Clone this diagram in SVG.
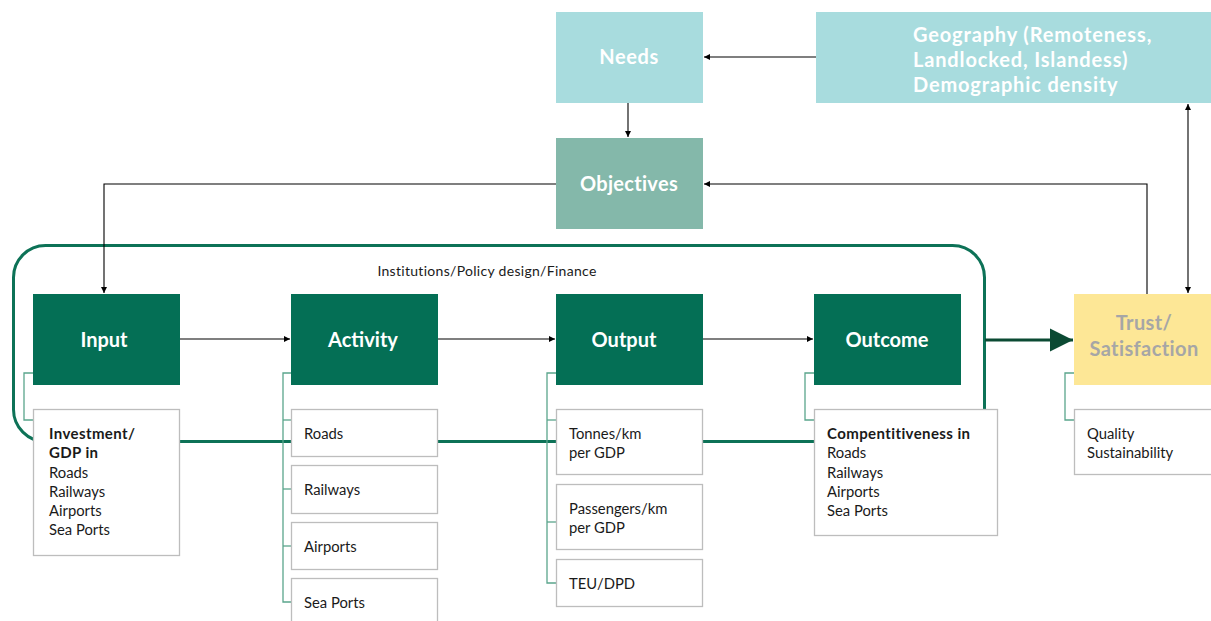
<svg xmlns="http://www.w3.org/2000/svg" width="1211" height="621" viewBox="0 0 1211 621">
<style>
.main{fill:#046f55}
.head{font-family:Lato,"Open Sans",sans-serif;font-weight:bold;fill:#ffffff;text-anchor:middle}
.lt{font-size:20px;letter-spacing:0.6px}
.geo{font-size:20px;letter-spacing:0.85px;text-anchor:start}
.sub{fill:#ffffff;stroke:#bdbdbd;stroke-width:1.3}
.t{font-family:Lato,"Open Sans",sans-serif;font-size:14.8px;fill:#1a1a1a}
.b{font-weight:bold;font-size:15px;letter-spacing:0.4px}
.link{fill:none;stroke:#000;stroke-width:1.1}
.tree{fill:none;stroke:#5aa58c;stroke-width:1.3}
</style>
<defs>
<marker id="ah" viewBox="0 0 10 10" refX="10" refY="5" markerWidth="6" markerHeight="6" markerUnits="userSpaceOnUse" orient="auto-start-reverse">
<path d="M0,0 L10,5 L0,10 z" fill="#000"/>
</marker>
<marker id="big" viewBox="0 0 10 10" refX="10" refY="5" markerWidth="23" markerHeight="25" markerUnits="userSpaceOnUse" orient="auto">
<path d="M0,0 L10,5 L0,10 z" fill="#0b4a33"/>
</marker>
</defs>
<rect width="1211" height="621" fill="#ffffff"/>

<!-- frame -->
<rect x="13.5" y="245.5" width="971" height="196" rx="32" ry="32" fill="none" stroke="#0d7257" stroke-width="3"/>
<text class="t" x="487" y="276" style="font-size:14px;letter-spacing:0.3px" text-anchor="middle">Institutions/Policy design/Finance</text>

<g id="connectors">
<line class="link" x1="816" y1="57" x2="704" y2="57" marker-end="url(#ah)"/>
<line class="link" x1="628" y1="103" x2="628" y2="137" marker-end="url(#ah)"/>
<polyline class="link" points="556,184 104,184 104,293" marker-end="url(#ah)"/>
<polyline class="link" points="1147,294 1147,184 704,184" marker-end="url(#ah)"/>
<line class="link" x1="1188" y1="104" x2="1188" y2="293" marker-start="url(#ah)" marker-end="url(#ah)"/>
<line class="link" x1="180" y1="339" x2="290" y2="339" marker-end="url(#ah)"/>
<line class="link" x1="438" y1="339" x2="555" y2="339" marker-end="url(#ah)"/>
<line class="link" x1="703" y1="339" x2="813" y2="339" marker-end="url(#ah)"/>
<line x1="985" y1="340" x2="1073" y2="340" stroke="#0b4a33" stroke-width="3" marker-end="url(#big)"/>
<polyline class="tree" points="33,373 24,373 24,420 33,420"/>
<polyline class="tree" points="291,373 283,373 283,602 291,602"/>
<line class="tree" x1="283" y1="420" x2="291" y2="420"/>
<line class="tree" x1="283" y1="489" x2="291" y2="489"/>
<line class="tree" x1="283" y1="546" x2="291" y2="546"/>
<polyline class="tree" points="556,373 547,373 547,583 556,583"/>
<line class="tree" x1="547" y1="420" x2="556" y2="420"/>
<line class="tree" x1="547" y1="522" x2="556" y2="522"/>
<polyline class="tree" points="814,373 805,373 805,420 814,420"/>
<polyline class="tree" points="1074,373 1065,373 1065,420 1074,420"/>
</g>

<g id="needs">
<rect x="556" y="12" width="147" height="91" fill="#a8dcde"/>
<text class="head lt" x="629" y="64">Needs</text>
</g>
<g id="geography">
<rect x="816" y="12" width="395" height="91" fill="#a8dcde"/>
<text class="head geo" x="913" y="42">Geography (Remoteness,</text>
<text class="head geo" x="913" y="67">Landlocked, Islandess)</text>
<text class="head geo" x="913" y="92">Demographic density</text>
</g>
<g id="objectives">
<rect x="556" y="138" width="147" height="91" fill="#84b8aa"/>
<text class="head" x="629" y="191" style="font-size:20px;letter-spacing:0.3px">Objectives</text>
</g>

<g id="input">
<rect class="main" x="33" y="294" width="147" height="91"/>
<text class="head" x="104" y="347" font-size="20">Input</text>
</g>
<g id="activity">
<rect class="main" x="291" y="294" width="147" height="91"/>
<text class="head" x="363" y="347" font-size="20">Activity</text>
</g>
<g id="output">
<rect class="main" x="556" y="294" width="147" height="91"/>
<text class="head" x="624" y="347" font-size="20">Output</text>
</g>
<g id="outcome">
<rect class="main" x="814" y="294" width="147" height="91"/>
<text class="head" x="887" y="347" font-size="20">Outcome</text>
</g>
<g id="trust">
<rect x="1074" y="294" width="137" height="91" fill="#fde796"/>
<text class="head" x="1144" y="330" style="fill:#a6a6a6;font-size:20px;letter-spacing:0.4px">Trust/</text>
<text class="head" x="1144" y="356" style="fill:#a6a6a6;font-size:20px;letter-spacing:0.4px">Satisfaction</text>
</g>

<g id="input-detail">
<rect class="sub" x="33.5" y="409.5" width="146" height="146"/>
<text class="t b" x="49" y="439">Investment/</text>
<text class="t b" x="49" y="458">GDP in</text>
<text class="t" x="49" y="478">Roads</text>
<text class="t" x="49" y="497">Railways</text>
<text class="t" x="49" y="516">Airports</text>
<text class="t" x="49" y="535">Sea Ports</text>
</g>
<g id="activity-roads">
<rect class="sub" x="291.5" y="409.5" width="146" height="47"/>
<text class="t" x="304" y="439">Roads</text>
</g>
<g id="activity-railways">
<rect class="sub" x="291.5" y="465.5" width="146" height="48"/>
<text class="t" x="304" y="495">Railways</text>
</g>
<g id="activity-airports">
<rect class="sub" x="291.5" y="522.5" width="146" height="47"/>
<text class="t" x="304" y="552">Airports</text>
</g>
<g id="activity-seaports">
<rect class="sub" x="291.5" y="578.5" width="146" height="50"/>
<text class="t" x="304" y="608">Sea Ports</text>
</g>
<g id="output-tonnes">
<rect class="sub" x="556.5" y="409.5" width="146" height="65"/>
<text class="t" x="569" y="439">Tonnes/km</text>
<text class="t" x="569" y="458">per GDP</text>
</g>
<g id="output-passengers">
<rect class="sub" x="556.5" y="484.5" width="146" height="65"/>
<text class="t" x="569" y="514">Passengers/km</text>
<text class="t" x="569" y="533">per GDP</text>
</g>
<g id="output-teu">
<rect class="sub" x="556.5" y="559.5" width="146" height="47"/>
<text class="t" x="569" y="589">TEU/DPD</text>
</g>
<g id="outcome-detail">
<rect class="sub" x="814.5" y="409.5" width="183" height="126"/>
<text class="t b" x="827" y="439">Compentitiveness in</text>
<text class="t" x="827" y="458">Roads</text>
<text class="t" x="827" y="478">Railways</text>
<text class="t" x="827" y="497">Airports</text>
<text class="t" x="827" y="516">Sea Ports</text>
</g>
<g id="trust-detail">
<rect class="sub" x="1074.5" y="409.5" width="140" height="65"/>
<text class="t" x="1087" y="439">Quality</text>
<text class="t" x="1087" y="458">Sustainability</text>
</g>
</svg>
